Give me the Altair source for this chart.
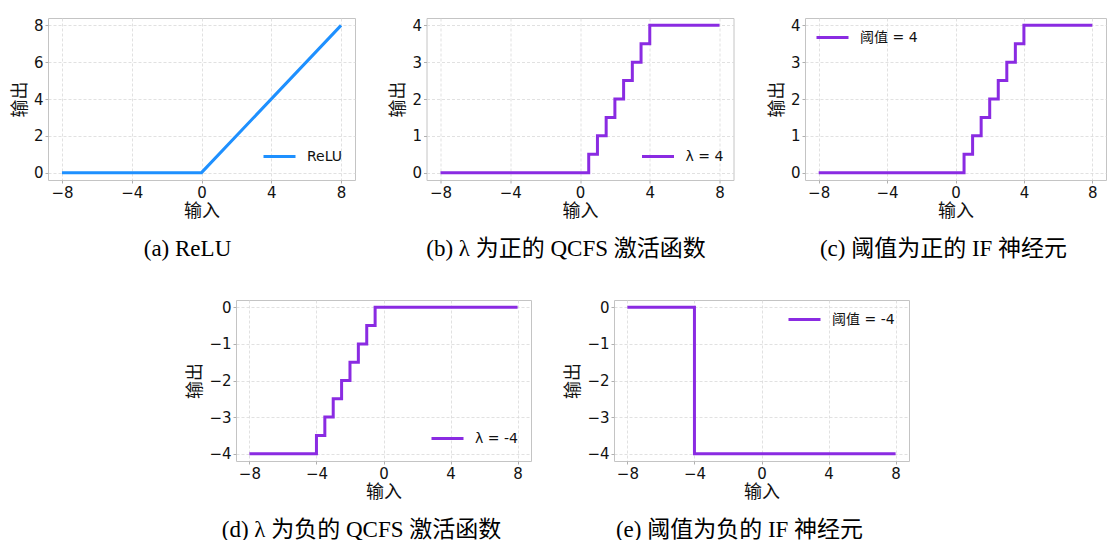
import altair as alt
import pandas as pd

# ---------- data ----------
relu_x = [-8, 0, 8]
relu_y = [0, 0, 8]

qpos_x = [-8, 0.5, 1, 1.5, 2, 2.5, 3, 3.5, 4, 8]
qpos_y = [0, 0.5, 1, 1.5, 2, 2.5, 3, 3.5, 4, 4]

ifpos_x = [-8, 0.5, 1, 1.5, 2, 2.5, 3, 3.5, 4, 8]
ifpos_y = [0, 0.5, 1, 1.5, 2, 2.5, 3, 3.5, 4, 4]

qneg_x = [-8, -4, -3.5, -3, -2.5, -2, -1.5, -1, -0.5, 8]
qneg_y = [-4, -3.5, -3, -2.5, -2, -1.5, -1, -0.5, 0, 0]

ifneg_x = [-8, -4, 8]
ifneg_y = [0, -4, -4]

x_ticks = [-8, -4, 0, 4, 8]
y_ticks_a = [0, 2, 4, 6, 8]
y_ticks_pos = [0, 1, 2, 3, 4]
y_ticks_neg = [-4, -3, -2, -1, 0]

BLUE = "#1E90FF"
PURPLE = "#8A2BE2"
SANS = "DejaVu Sans, Noto Sans CJK SC, sans-serif"
SERIF = "Liberation Serif, Noto Sans CJK SC, serif"


def panel(xs, ys, label, color, ydom, yticks, caption, lx, ly, cdx, w, h, interp):
    df = pd.DataFrame({"x": xs, "y": ys, "s": [label] * len(xs)})
    return (
        alt.Chart(df)
        .mark_line(strokeWidth=3, interpolate=interp, clip=True)
        .encode(
            x=alt.X("x:Q",
                    scale=alt.Scale(domain=[-8.8, 8.8], nice=False, zero=False),
                    axis=alt.Axis(values=x_ticks, title="输入")),
            y=alt.Y("y:Q",
                    scale=alt.Scale(domain=ydom, nice=False, zero=False),
                    axis=alt.Axis(values=yticks, title="输出")),
            color=alt.Color("s:N",
                            scale=alt.Scale(domain=[label], range=[color]),
                            legend=alt.Legend(title=None, orient="none",
                                              legendX=lx, legendY=ly)),
        )
        .properties(
            width=w, height=h,
            title=alt.TitleParams(caption, orient="bottom", anchor="middle",
                                  font=SERIF, fontSize=23, fontWeight="normal",
                                  color="#000000", offset=18, dx=cdx),
        )
    )


a = panel(relu_x, relu_y, "ReLU", BLUE, [-0.4, 8.4], y_ticks_a,
          "(a) ReLU", 214, 121, -14, 307, 162, "linear")
b = panel(qpos_x, qpos_y, "λ = 4", PURPLE, [-0.2, 4.2], y_ticks_pos,
          "(b) λ 为正的 QCFS 激活函数", 214, 121, -14, 307, 162, "step-after")
c = panel(ifpos_x, ifpos_y, "阈值 = 4", PURPLE, [-0.2, 4.2], y_ticks_pos,
          "(c) 阈值为正的 IF 神经元", 10, 2, -12, 301, 162, "step-after")
d = panel(qneg_x, qneg_y, "λ = -4", PURPLE, [-4.2, 0.2], y_ticks_neg,
          "(d) λ 为负的 QCFS 激活函数", 194, 121, -22, 295, 161, "step-after")
e = panel(ifneg_x, ifneg_y, "阈值 = -4", PURPLE, [-4.2, 0.2], y_ticks_neg,
          "(e) 阈值为负的 IF 神经元", 173, 2, -22, 295, 161, "step-after")

spacer = (
    alt.Chart(pd.DataFrame({"x": [0]}))
    .mark_point(opacity=0)
    .encode(x=alt.X("x:Q", axis=None), y=alt.Y("x:Q", axis=None))
    .properties(width=105, height=161, view=alt.ViewBackground(stroke=None))
)

top = alt.hconcat(a, b, c, spacing=71.5, bounds="flush").resolve_scale(color="independent")
bottom = alt.hconcat(spacer, d, e, spacing=83, bounds="flush").resolve_scale(color="independent")

chart = (
    alt.vconcat(top, bottom, spacing=282, bounds="flush")
    .resolve_scale(color="independent")
    .properties(padding={"left": 10, "top": 17, "right": 0, "bottom": 0})
    .configure(background="white")
    .configure_view(stroke="#c4c4c4", strokeWidth=1)
    .configure_axis(
        labelFont=SANS, labelFontSize=15, labelColor="#111111",
        titleFont=SANS, titleFontSize=18, titleFontWeight="normal", titleColor="#111111",
        grid=True, gridColor="#d9d9d9", gridDash=[3, 2], gridWidth=0.8,
        domain=False, ticks=True, tickSize=3, tickColor="#b0b0b0",
        labelPadding=2, titlePadding=2,
    )
    .configure_axisY(titlePadding=4)
    .configure_legend(
        labelFont=SANS, labelFontSize=14, labelColor="#111111",
        symbolType="stroke", symbolSize=1024, symbolStrokeWidth=3,
        padding=0, labelOffset=10,
    )
)

chart.save("out.html", embed_options={"renderer": "svg", "actions": False})
